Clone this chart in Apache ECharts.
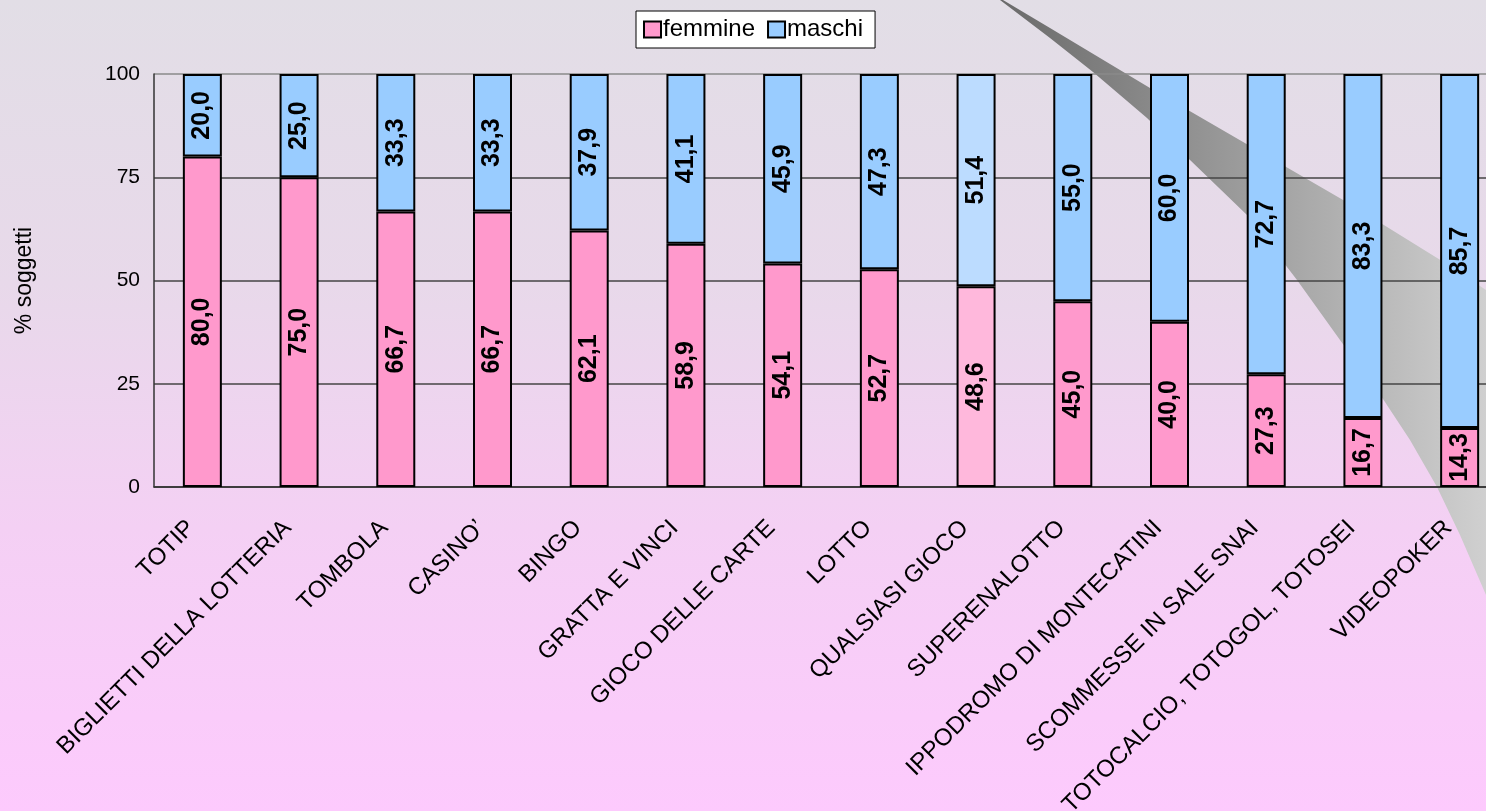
<!DOCTYPE html>
<html>
<head>
<meta charset="utf-8">
<script src="https://cdn.jsdelivr.net/npm/echarts@6/dist/echarts.min.js"></script>
<style>
html,body{margin:0;padding:0;background:#fff;}
#chart{width:1486px;height:811px;}
</style>
</head>
<body>
<div id="chart"></div>
<script>
const categories = ['TOTIP','BIGLIETTI DELLA LOTTERIA','TOMBOLA','CASINO\u2019','BINGO','GRATTA E VINCI','GIOCO DELLE CARTE','LOTTO','QUALSIASI GIOCO','SUPERENALOTTO','IPPODROMO DI MONTECATINI','SCOMMESSE IN SALE SNAI','TOTOCALCIO, TOTOGOL, TOTOSEI','VIDEOPOKER'];
const femmine = [80.0, 75.0, 66.7, 66.7, 62.1, 58.9, 54.1, 52.7, 48.6, 45.0, 40.0, 27.3, 16.7, 14.3];
const maschi  = [20.0, 25.0, 33.3, 33.3, 37.9, 41.1, 45.9, 47.3, 51.4, 55.0, 60.0, 72.7, 83.3, 85.7];
const highlightCategory = 'QUALSIASI GIOCO';

const FONT = '"Liberation Sans", Arial, sans-serif';
const PINK = '#ff99cc', BLUE = '#99ccff';
const PINK_L = '#ffb8dc', BLUE_L = '#bcdcff';

function mk(vals, light) {
  return vals.map((v, i) => categories[i] === highlightCategory
    ? { value: v, itemStyle: { color: light } } : v);
}
const fmt = p => Number(p.value).toFixed(1).replace('.', ',');

const chart = echarts.init(document.getElementById('chart'), null, { renderer: 'canvas' });

// decorative swoosh (background element)
const swooshUpper = [[1003,0],[1050,28],[1100,58],[1150,88],[1200,117],[1250,146],[1300,175],[1350,204],[1400,235],[1450,266],[1486,290]];
const swooshLower = [[1486,595],[1460,535],[1437,487],[1410,440],[1383,399],[1340,340],[1297,280],[1247,215],[1190,160],[1147,118],[1093,72],[1050,38],[1000,0]];

const labelStyle = {
  show: true, position: 'inside', rotate: 90, formatter: fmt,
  fontFamily: FONT, fontWeight: 'bold', fontSize: 25, color: '#000'
};

chart.setOption({
  animation: false,
  graphic: [
    { type: 'rect', z: -10, silent: true, shape: { x: 0, y: 0, width: 1486, height: 811 },
      style: { fill: { type: 'linear', x: 0, y: 0, x2: 0, y2: 1, colorStops: [
        { offset: 0, color: '#e2dee6' }, { offset: 0.35, color: '#e8d9ea' },
        { offset: 0.65, color: '#f4d0f4' }, { offset: 1, color: '#fdcafd' } ] } } },
    { type: 'polygon', z: -5, silent: true, shape: { points: swooshUpper.concat(swooshLower) },
      style: { fill: { type: 'linear', x: 0, y: 0, x2: 1, y2: 0, colorStops: [
        { offset: 0, color: '#6a6a6a' }, { offset: 0.5, color: '#9c9c9c' }, { offset: 1, color: '#d0d0d0' } ] } } }
  ],
  legend: {
    left: 636, top: 11,
    data: ['femmine', 'maschi'],
    backgroundColor: '#fff', borderColor: '#000', borderWidth: 1,
    padding: [6, 12, 6, 7],
    itemGap: 12, itemWidth: 17, itemHeight: 16, icon: 'rect',
    itemStyle: { borderColor: '#000', borderWidth: 2 },
    textStyle: { fontFamily: FONT, fontSize: 24, lineHeight: 25, color: '#000', padding: [0, 0, 0, -3] }
  },
  grid: { left: 154, top: 74, bottom: 324, width: 1354, containLabel: false, outerBoundsMode: 'none' },
  xAxis: {
    type: 'category', data: categories,
    axisLine: { show: true, lineStyle: { color: '#333', width: 1.5 } },
    axisTick: { show: false },
    axisLabel: { interval: 0, rotate: 45, margin: 26, padding: [0, 16, 0, 0], fontFamily: FONT, fontSize: 24, color: '#000' }
  },
  yAxis: {
    type: 'value', min: 0, max: 100, interval: 25,
    name: '% soggetti', nameLocation: 'middle', nameGap: 118,
    nameTextStyle: { fontFamily: FONT, fontSize: 23, color: '#000' },
    axisLine: { show: true, lineStyle: { color: '#333', width: 1.5 } },
    axisTick: { show: false },
    axisLabel: { margin: 14, fontFamily: FONT, fontSize: 21, color: '#000' },
    splitLine: { show: true, lineStyle: { color: ['#333', '#444', '#444', '#444', '#8a8a8a'], width: 1.5 } }
  },
  series: [
    { name: 'femmine', type: 'bar', stack: 'tot', barWidth: 39,
      data: mk(femmine, PINK_L),
      itemStyle: { color: PINK, borderColor: '#000', borderWidth: 2 },
      label: labelStyle },
    { name: 'maschi', type: 'bar', stack: 'tot', barWidth: 39,
      data: mk(maschi, BLUE_L),
      itemStyle: { color: BLUE, borderColor: '#000', borderWidth: 2 },
      label: labelStyle }
  ]
});
</script>
</body>
</html>
